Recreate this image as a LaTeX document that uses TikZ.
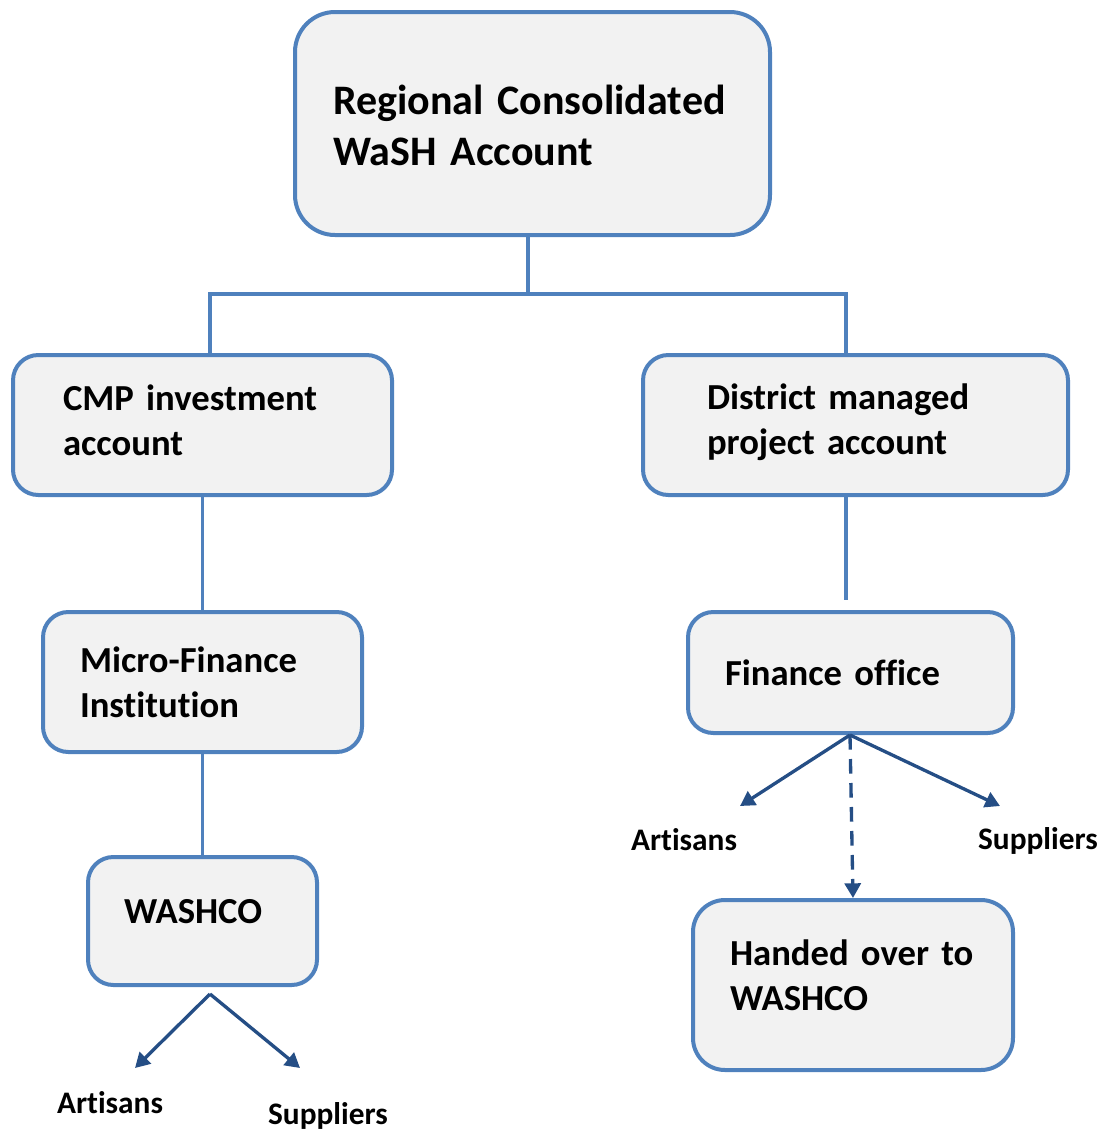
\documentclass[tikz,border=0pt]{standalone}
\usepackage{fontspec}
\setmainfont{Carlito}[Ligatures=NoCommon, WordSpace=0.85]
\usetikzlibrary{arrows.meta}
\definecolor{boxblue}{HTML}{4F81BD}
\definecolor{boxfill}{HTML}{F2F2F2}
\definecolor{arrblue}{HTML}{254E85}
\tikzset{
  box/.style={draw=boxblue, line width=3pt, fill=boxfill, align=left, anchor=center,
    font=\fontsize{27.5}{33.75}\selectfont\bfseries},
  conn/.style={draw=boxblue, line width=2.3pt},
  arr/.style={draw=arrblue, line width=2.5pt, -{Triangle[length=11pt,width=12pt]}},
  lbl/.style={font=\fontsize{23.5}{28}\selectfont\bfseries, inner sep=0pt}
}
\begin{document}
\begin{tikzpicture}[x=0.75pt,y=-0.75pt]
\useasboundingbox (0,0) rectangle (1105,1133);
% boxes
\node[box, rounded corners=30pt, minimum height=167.25pt, text width=299.25pt, inner xsep=28.5pt,
  text height=33.5pt, text depth=46.5pt,
  font=\fontsize{31.5}{38}\selectfont\bfseries] (top) at (532.5,123.5) {Regional Consolidated\\WaSH Account};
\node[box, rounded corners=19pt, minimum height=105pt, text width=209.25pt, inner xsep=37.5pt,
  text height=28.75pt, text depth=51.25pt] (cmp) at (202.5,425) {CMP investment\\account};
\node[box, rounded corners=19pt, minimum height=105pt, text width=222.75pt, inner xsep=48pt,
  text height=28.5pt, text depth=51.5pt] (dist) at (855.5,425) {District managed\\project account};
\node[box, rounded corners=19pt, minimum height=105pt, text width=183.75pt, inner xsep=27.75pt,
  text height=32.5pt, text depth=47.5pt] (mfi) at (202.5,682) {Micro-Finance\\Institution};
\node[box, rounded corners=19pt, minimum height=90.75pt, text width=188.25pt, inner xsep=27.75pt,
  text height=49.375pt, text depth=30.625pt] (fin) at (850.5,672.5) {Finance office};
\node[box, rounded corners=19pt, minimum height=96pt, text width=117.75pt, inner xsep=27pt,
  text height=41.5pt, text depth=38.5pt] (wco) at (202.5,921) {WASHCO};
\node[box, rounded corners=24pt, minimum height=127.5pt, text width=184.5pt, inner xsep=27.75pt,
  text height=25pt, text depth=55pt] (hand) at (853,985) {Handed over to\\WASHCO};
% labels
\node[lbl] (fa) at (684,840) {Artisans};
\node[lbl] (fs) at (1038,841) {Suppliers};
\node[lbl] (wa) at (110,1103) {Artisans};
\node[lbl] (ws) at (328,1116) {Suppliers};
% connector points
\coordinate (j) at (528,294);
\coordinate (jl) at (210,294);
\coordinate (jr) at (846,294);
\coordinate (fo) at (850,735);
\coordinate (wo) at (210,994);
\coordinate (faE) at (740,806);
\coordinate (fsE) at (1000,806);
\coordinate (waE) at (135,1068);
\coordinate (wsE) at (300,1068);
\coordinate (dE) at (846,600);
% connectors
\draw[conn] (top.south -| j) -- (j);
\draw[conn] (jl |- cmp.north) -- (jl) -- (jr) -- (jr |- dist.north);
\draw[conn] (cmp.south) -- (mfi.north);
\draw[conn] (dist.south -| dE) -- (dE);
\draw[conn] (mfi.south) -- (wco.north);
\draw[arr] (fo) -- (faE);
\draw[arr] (fo) -- (fsE);
\draw[arr, dashed, dash pattern=on 11pt off 7pt] (fo) -- (hand.north);
\draw[arr] (wo) -- (waE);
\draw[arr] (wo) -- (wsE);
\end{tikzpicture}
\end{document}
